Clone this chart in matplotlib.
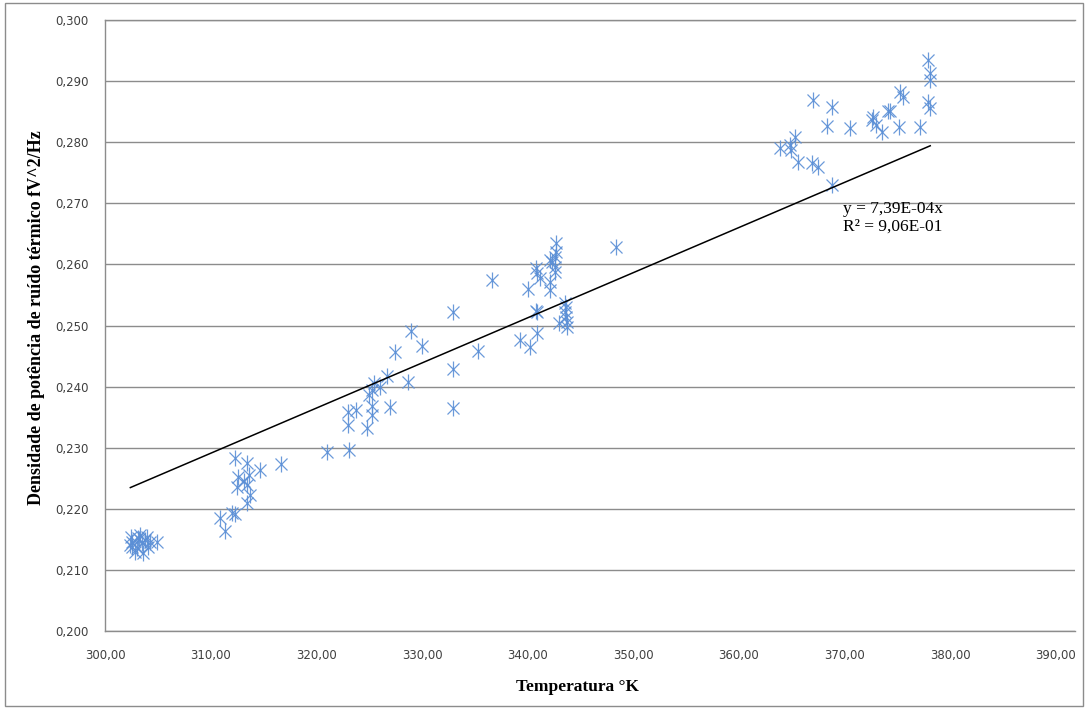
import numpy as np
import matplotlib
matplotlib.use("Agg")
import matplotlib.pyplot as plt
from matplotlib.ticker import FuncFormatter, MultipleLocator
from matplotlib.patches import Rectangle

# temperatura (K) e densidade de potencia
temperatura = [
    # grupo ~303 K
    302.5, 302.6, 302.8, 303.1, 303.5, 303.6, 304.0, 304.3, 304.9, 302.6,
    303.3, 304.1, 303.0, 303.8, 302.4, 303.2,
    # grupo ~313 K
    312.3, 313.4, 314.7, 316.7, 312.6, 313.2, 313.6, 312.5, 313.4, 313.7,
    313.4, 312.0, 310.9, 311.4, 312.3,
    # grupo 321-337 K
    321.0, 323.1, 323.0, 323.0, 323.8, 324.8, 325.3, 325.3, 325.0, 325.3,
    325.5, 326.0, 326.7, 327.0, 327.4, 328.7, 329.0, 330.0, 332.9, 332.9,
    332.9, 335.3, 336.6,
    # grupo 339-349 K
    340.0, 342.1, 340.9, 339.3, 340.2, 340.9, 343.5, 343.5, 343.0, 343.7,
    343.7, 342.7, 342.7, 342.6, 342.3, 342.1, 348.4, 340.8, 340.9, 341.2,
    342.1, 342.6, 342.6, 340.8, 343.6, 343.6,
    # grupo 364-378 K
    377.9, 378.1, 378.1, 377.9, 378.1, 375.2, 375.5, 377.1, 375.1, 374.3,
    374.1, 372.7, 372.6, 373.0, 373.5, 370.5, 368.3, 367.0, 368.8, 365.3,
    364.8, 363.9, 364.9, 365.6, 366.9, 367.5, 368.8,
]
densidade = [
    0.2154, 0.2137, 0.2129, 0.2152, 0.2144, 0.2128, 0.2154, 0.2146, 0.2146, 0.2146,
    0.2157, 0.2137, 0.2136, 0.2149, 0.2140, 0.2150,
    0.2283, 0.2275, 0.2264, 0.2273, 0.2252, 0.2245, 0.2255, 0.2236, 0.2239, 0.2223,
    0.2209, 0.2193, 0.2185, 0.2163, 0.2191,
    0.2293, 0.2296, 0.2337, 0.2358, 0.2362, 0.2332, 0.2354, 0.2368, 0.2386, 0.2394,
    0.2406, 0.2399, 0.2417, 0.2367, 0.2457, 0.2408, 0.2491, 0.2466, 0.2522, 0.2429,
    0.2365, 0.2458, 0.2574,
    0.2560, 0.2558, 0.2522, 0.2476, 0.2465, 0.2488, 0.2537, 0.2522, 0.2504, 0.2506,
    0.2498, 0.2635, 0.2620, 0.2612, 0.2604, 0.2607, 0.2628, 0.2594, 0.2586, 0.2578,
    0.2571, 0.2596, 0.2588, 0.2524, 0.2530, 0.2514,
    0.2935, 0.2913, 0.2902, 0.2866, 0.2856, 0.2882, 0.2874, 0.2825, 0.2825, 0.2851,
    0.2851, 0.2841, 0.2836, 0.2828, 0.2817, 0.2823, 0.2826, 0.2869, 0.2858, 0.2809,
    0.2795, 0.2790, 0.2787, 0.2768, 0.2766, 0.2759, 0.2730,
]

# linha de tendencia (pela origem) e R² indicados no grafico
coef_tendencia = 7.39e-4
texto_eq = "y = 7,39E-04x\nR² = 9,06E-01"

x = np.array(temperatura)
y = np.array(densidade)

fig = plt.figure(figsize=(10.86, 7.13), dpi=100)
ax = fig.add_axes([105 / 1086, 1 - 631 / 713, 970 / 1086, 611 / 713])

azul = "#5B8FD6"
ax.plot(x, y, linestyle="none", marker="x", ms=8, mew=0.9, color=azul, alpha=0.9)
ax.plot(x, y, linestyle="none", marker="|", ms=11, mew=0.9, color=azul, alpha=0.9)

xt = np.array([x.min(), x.max()])
ax.plot(xt, coef_tendencia * xt, color="black", lw=1.1)

ax.text(369.8, 0.2676, texto_eq, fontsize=12.5, family="Liberation Serif",
        va="center", ha="left", linespacing=1.1)

ax.set_xlim(300, 391.8)
ax.set_ylim(0.200, 0.300)
ax.xaxis.set_major_locator(MultipleLocator(10))
ax.yaxis.set_major_locator(MultipleLocator(0.01))
ax.xaxis.set_major_formatter(FuncFormatter(lambda v, p: f"{v:.2f}".replace(".", ",")))
ax.yaxis.set_major_formatter(FuncFormatter(lambda v, p: f"{v:.3f}".replace(".", ",")))
ax.set_xticks([300 + 10 * i for i in range(10)])

ax.yaxis.grid(True, color="#8c8c8c", lw=1.0)
ax.set_axisbelow(True)
for s in ["left", "bottom", "top"]:
    ax.spines[s].set_color("#8c8c8c")
    ax.spines[s].set_linewidth(1.0)
ax.spines["right"].set_visible(False)

ax.tick_params(axis="both", length=0, labelsize=8.5, labelcolor="#404040")
ax.tick_params(axis="y", pad=12)
ax.tick_params(axis="x", pad=13)

fig.text(577 / 1086, 1 - 687 / 713, "Temperatura °K", ha="center", va="center",
         fontsize=12.5, fontweight="bold", family="Liberation Serif")
fig.text(37 / 1086, 1 - 318 / 713, "Densidade de potência de ruído térmico fV^2/Hz",
         ha="center", va="center", rotation=90,
         fontsize=13, fontweight="bold", family="Liberation Serif")

fig.patches.append(Rectangle((5 / 1086, 7 / 713), 1078 / 1086, 703 / 713,
                             transform=fig.transFigure, fill=False,
                             edgecolor="#8c8c8c", lw=1.0))

fig.savefig("out.png", dpi=100)
